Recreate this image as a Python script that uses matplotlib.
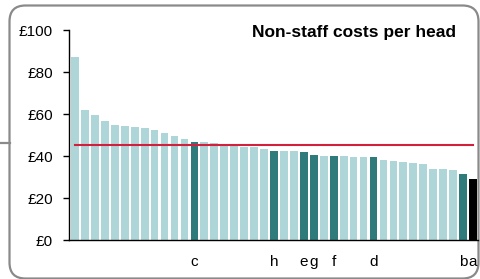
import matplotlib as mpl
mpl.use("Agg")
import matplotlib.pyplot as plt
from matplotlib.patches import FancyBboxPatch

plt.rcParams.update({
    "font.family": ["Liberation Sans", "DejaVu Sans"],
    "axes.linewidth": 1.0,
})

# cost per head, sorted high to low
values = [87.0, 62.1, 59.6, 56.6, 55.0, 54.5, 54.0, 53.1, 52.5, 50.9,
          49.4, 48.0, 46.8, 46.8, 46.3, 45.4, 45.3, 44.4, 44.4, 43.2,
          42.6, 42.6, 42.3, 42.0, 40.6, 40.2, 40.2, 40.1, 39.6, 39.6,
          39.3, 37.9, 37.4, 37.2, 36.8, 36.4, 34.0, 33.7, 33.1, 31.3,
          29.0]
# highlighted organisations: index -> letter
highlight = {12: "c", 20: "h", 23: "e", 24: "g", 26: "f", 30: "d", 39: "b", 40: "a"}
average = 45.2
yticks = [0, 20, 40, 60, 80, 100]

C = dict(light="#aed5d8", dark="#2f7a7b", black="#000000", red="#d21f3c", frame="#8a8a8a")

fig = plt.figure(figsize=(4.8, 2.79), dpi=100)
fig.patch.set_facecolor("white")

# background frame (pixel coords)
bg = fig.add_axes([0, 0, 1, 1], zorder=-1)
bg.set_xlim(0, 480)
bg.set_ylim(279, 0)
bg.axis("off")
bg.add_patch(FancyBboxPatch((9.5, 5.5), 469, 273, boxstyle="round,pad=0,rounding_size=16",
                            facecolor="none", edgecolor=C["frame"], lw=1.6))
bg.plot([0, 9.5], [142.5, 142.5], color=C["frame"], lw=1.6)

ax = fig.add_axes([69 / 480, 39 / 279, 409 / 480, 210 / 279])
ax.patch.set_alpha(0)
x = list(range(len(values)))
colors = []
for i in x:
    if i == len(values) - 1:
        colors.append(C["black"])
    elif i in highlight:
        colors.append(C["dark"])
    else:
        colors.append(C["light"])
ax.bar(x, values, width=0.78, color=colors, zorder=2)
ax.plot([0, len(values) - 1], [average, average], color=C["red"], lw=1.5, zorder=3)

ax.set_xlim(-0.6, len(values) - 0.5)
ax.set_ylim(0, 100)
ax.set_yticks(yticks)
ax.set_yticklabels([f"£{v}" for v in yticks], fontsize=11)
ax.set_xticks(x)
ax.set_xticklabels([highlight.get(i, "") for i in x], fontsize=11)
ax.tick_params(axis="y", length=4, width=1, pad=7.5)
ax.tick_params(axis="x", length=0, pad=11)
for side in ["top", "right"]:
    ax.spines[side].set_visible(False)

fig.text(354 / 480, 1 - 32 / 279, "Non-staff costs per head", fontsize=12.5, weight="bold",
         ha="center", va="center")

fig.savefig("out.png", dpi=100, facecolor="white")
